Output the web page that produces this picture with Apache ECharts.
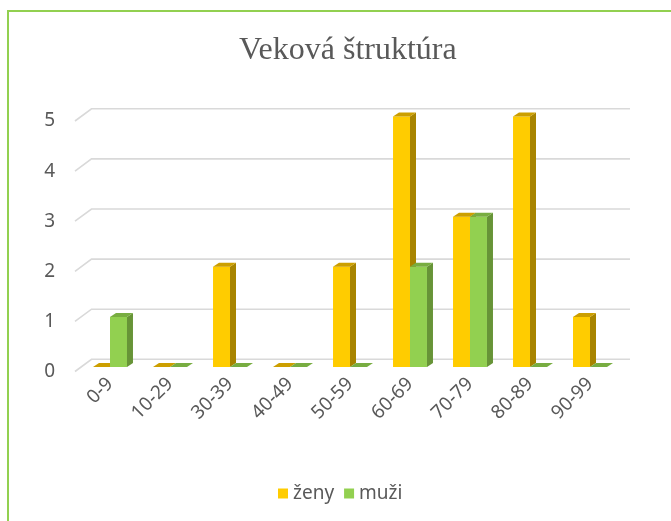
<!DOCTYPE html>
<html>
<head>
<meta charset="utf-8">
<script src="https://cdn.jsdelivr.net/npm/echarts@6/dist/echarts.min.js"></script>
<style>
  html, body { margin: 0; padding: 0; background: #fff; }
  #frame { position: absolute; left: 7px; top: 10px; width: 700px; height: 600px; border: 2px solid #92d050; }
  #main { position: absolute; left: 0; top: 0; width: 671px; height: 521px; }
</style>
</head>
<body>
<div id="frame"></div>
<div id="main"></div>
<script>
// data
const categories = ['0-9', '10-29', '30-39', '40-49', '50-59', '60-69', '70-79', '80-89', '90-99'];
const zeny = [0, 0, 2, 0, 2, 5, 3, 5, 1];
const muzi = [1, 0, 0, 0, 0, 2, 3, 0, 0];
const yTicks = [0, 1, 2, 3, 4, 5];

// fake 3d look
const DX = 6, DY = 4;
const barColors = [
  { front: '#ffcc00', side: '#a88400', top: '#cc9f00' },
  { front: '#92d050', side: '#679437', top: '#78ad41' }
];

const chart = echarts.init(document.getElementById('main'));

function barItem(idx) {
  return function (params, api) {
    const c = api.coord([api.value(0), api.value(1)]);
    const base = api.coord([api.value(0), 0]);
    const bw = api.size([1, 0])[0] * 0.283;
    const x = idx === 0 ? c[0] - bw : c[0];
    const top = c[1], bot = base[1];
    const col = barColors[idx];
    return {
      type: 'group',
      children: [
        { type: 'rect', shape: { x: x, y: top, width: bw, height: bot - top }, style: { fill: col.front } },
        { type: 'polygon', shape: { points: [[x + bw, top], [x + bw + DX, top - DY], [x + bw + DX, bot - DY], [x + bw, bot]] }, style: { fill: col.side } },
        { type: 'polygon', shape: { points: [[x, top], [x + DX, top - DY], [x + bw + DX, top - DY], [x + bw, top]] }, style: { fill: col.top } }
      ]
    };
  };
}

function gridItem(params, api) {
  const y = api.coord([0, api.value(1)])[1];
  const cs = params.coordSys;
  return {
    type: 'polyline',
    shape: { points: [[cs.x - 5, y + 4.5], [cs.x + 11.5, y - 7.7], [cs.x + cs.width + 10, y - 7.7]] },
    style: { stroke: '#d9d9d9', lineWidth: 1.6, fill: null }
  };
}

chart.setOption({
  animation: false,
  title: {
    text: 'Veková štruktúra',
    left: 234,
    top: 30,
    textStyle: { fontFamily: 'Liberation Serif', fontSize: 32, fontWeight: 'normal', color: '#595959' }
  },
  legend: {
    bottom: 13,
    left: 273,
    icon: 'rect',
    itemWidth: 10,
    itemHeight: 10,
    itemGap: 10,
    textStyle: { fontFamily: 'Noto Sans', fontSize: 19, color: '#595959' },
    data: ['ženy', 'muži']
  },
  grid: [
    { left: 80, width: 540, top: 116.5, height: 250.5 },
    { left: 75, width: 540, top: 121, height: 250.5 }
  ],
  xAxis: [
    {
      type: 'category', data: categories, gridIndex: 0,
      axisLine: { show: false }, axisTick: { show: false },
      axisLabel: { rotate: 45, margin: 14, color: '#595959', fontFamily: 'Noto Sans', fontSize: 19, interval: 0 }
    },
    { type: 'category', data: categories, gridIndex: 1, show: false }
  ],
  yAxis: [
    { type: 'value', min: 0, max: 5, interval: 1, gridIndex: 0, show: false, splitLine: { show: false } },
    {
      type: 'value', min: 0, max: 5, interval: 1, gridIndex: 1,
      axisLine: { show: false }, axisTick: { show: false }, splitLine: { show: false },
      axisLabel: { margin: 20, color: '#595959', fontFamily: 'Noto Sans', fontSize: 19 }
    }
  ],
  series: [
    {
      type: 'custom', name: 'grid', silent: true, z: 1,
      renderItem: gridItem,
      data: yTicks.map(v => [0, v])
    },
    {
      type: 'custom', name: 'ženy', z: 2,
      itemStyle: { color: barColors[0].front },
      renderItem: barItem(0),
      data: zeny.map((v, i) => [i, v])
    },
    {
      type: 'custom', name: 'muži', z: 3,
      itemStyle: { color: barColors[1].front },
      renderItem: barItem(1),
      data: muzi.map((v, i) => [i, v])
    }
  ]
});
</script>
</body>
</html>
